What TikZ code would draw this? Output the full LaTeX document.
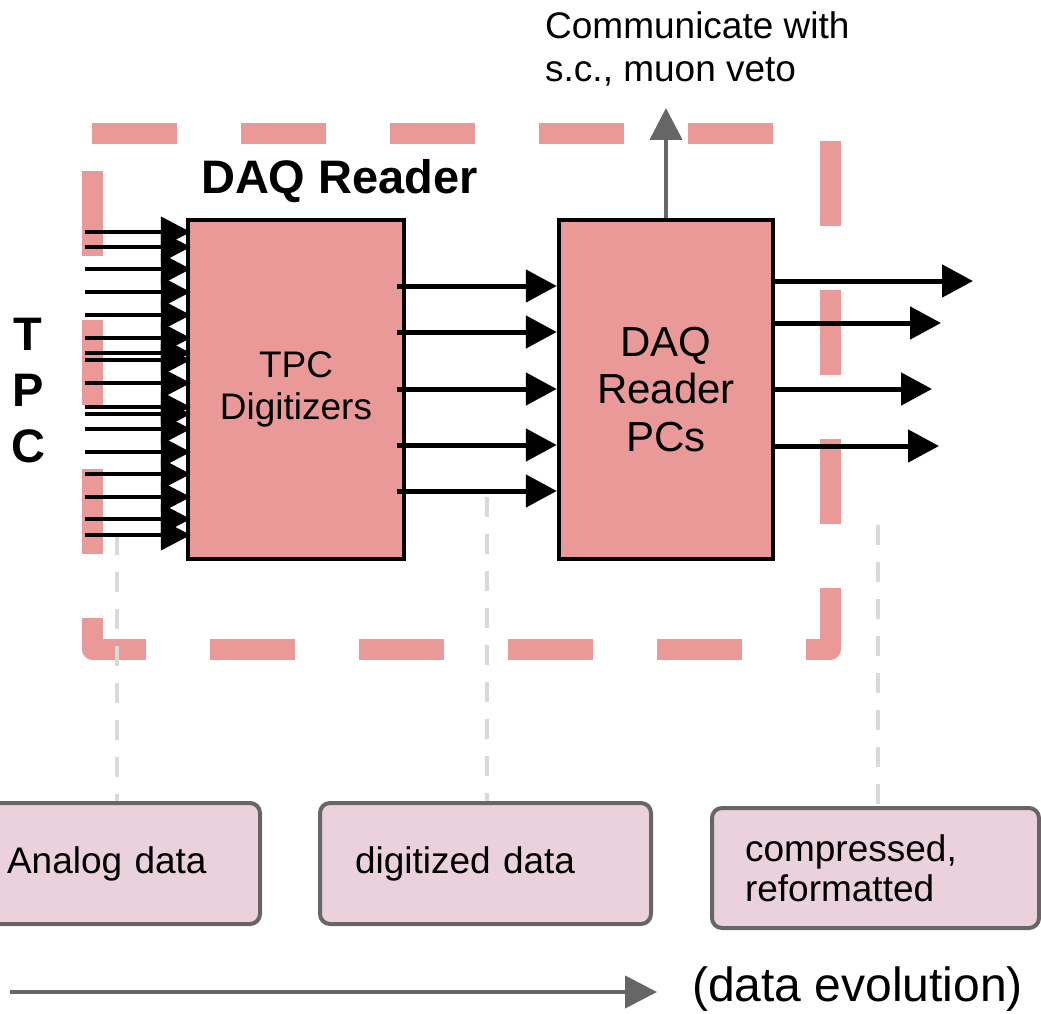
\documentclass[tikz,border=0pt]{standalone}
\usepackage{fontspec}
\setmainfont{Liberation Sans}
\usetikzlibrary{arrows.meta}
\definecolor{framepink}{HTML}{EA9999}
\definecolor{boxpink}{HTML}{EA9999}
\definecolor{stagefill}{HTML}{EAD1DC}
\definecolor{edgegray}{HTML}{666666}
\definecolor{guidegray}{HTML}{D9D9D9}
\begin{document}
\begin{tikzpicture}[x=1pt,y=-1pt,
  frame/.style={draw=framepink, line width=21pt, dash pattern=on 85pt off 64pt, line join=round},
  procbox/.style={draw=black, line width=4.5pt, fill=boxpink, inner sep=0pt, align=center},
  stagebox/.style={draw=edgegray, line width=4pt, fill=stagefill, rounded corners=10pt, align=left, font=\fontsize{37}{40}\selectfont},
  inarrow/.style={draw=black, line width=4.5pt, -{Triangle[length=30pt,width=30pt]}},
  blackarrow/.style={draw=black, line width=5pt, -{Triangle[length=31pt,width=32pt]}},
  grayarrow/.style={draw=edgegray, line width=4.5pt, -{Triangle[length=32pt,width=32pt]}},
  guideline/.style={draw=guidegray, line width=4pt, dash pattern=on 20pt off 17pt},
]
\useasboundingbox (0,0) rectangle (1041,1014);
% dashed frame
\draw[frame] (92,134) -- (830,134) -- (830,649) -- (92,649) -- cycle;

% texts
\node[font=\bfseries\fontsize{47}{50}\selectfont, inner sep=0pt] (title) at (339.5,181) {DAQ Reader};
\node[font=\bfseries\fontsize{47}{56}\selectfont, align=center, inner sep=0pt] (tpc) at (28,391) {T\\P\\C};
\node[anchor=west, align=left, inner sep=0pt, font=\fontsize{37}{43}\selectfont] (comm) at (545,49) {Communicate with\\s.c., muon veto};

% boxes
\node[procbox, minimum width=216pt, minimum height=339pt, font=\fontsize{37}{42}\selectfont] (dig) at (296,389.5) {TPC\\Digitizers};
\node[procbox, minimum width=214pt, minimum height=339pt, font=\fontsize{42}{47.5}\selectfont] (pcs) at (666,389.5) {DAQ\\Reader\\PCs};

% stage boxes
\node[stagebox, minimum height=121pt, inner xsep=37pt, text width=216pt] (analog) at (115,863.5) {Analog data};
\node[stagebox, minimum height=121pt, inner xsep=35pt, text width=261pt] (digit) at (485.5,863.5) {digitized data};
\node[stagebox, minimum height=120pt, inner xsep=33pt, text width=261pt] (comp) at (875.5,868) {compressed,\\reformatted};

% guide lines
\coordinate (g1) at (117,535);
\coordinate (g2) at (487,497);
\coordinate (g3) at (878,525);
\draw[guideline] (g1) -- (g1 |- analog.north);
\draw[guideline] (g2) -- (g2 |- digit.north);
\draw[guideline] (g3) -- (g3 |- comp.north);

% input arrows
\foreach \y [count=\i] in {232,247,269,292,315,338,353,360,383,407,414,429,452,474,497,519,535} {
  \coordinate (in\i) at (85,\y);
  \draw[inarrow] (in\i) -- ([xshift=5pt]in\i -| dig.west);
}
% middle arrows
\foreach \y [count=\i] in {286,332,389,445,491} {
  \coordinate (mid\i) at (397,\y);
  \draw[blackarrow] (mid\i) -- (mid\i -| pcs.west);
}
% output arrows
\coordinate (out1) at (973,281);
\coordinate (out2) at (941,323);
\coordinate (out3) at (932,389);
\coordinate (out4) at (939,446);
\foreach \i in {1,...,4} {
  \draw[blackarrow] (out\i -| pcs.east) -- (out\i);
}
% up arrow
\coordinate (up) at (666,108);
\draw[grayarrow] (pcs.north) -- (up);

% data evolution arrow
\node[anchor=west, font=\fontsize{48}{52}\selectfont, inner sep=0pt] (evo) at (692,989) {(data evolution)};
\coordinate (evs) at (10,992);
\coordinate (eve) at (657,992);
\draw[grayarrow] (evs) -- (eve);
\end{tikzpicture}
\end{document}
